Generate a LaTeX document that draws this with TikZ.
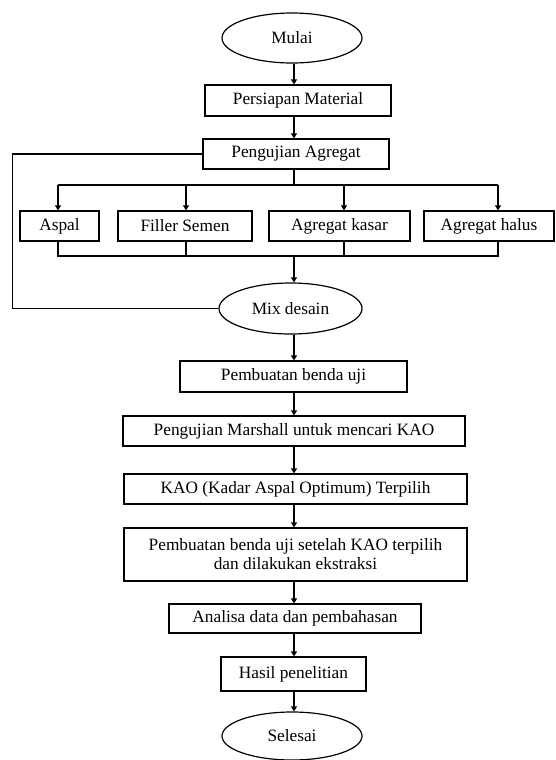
\documentclass[tikz,border=0pt]{standalone}
\usepackage{fontspec}
\setmainfont{Liberation Serif}
\usetikzlibrary{shapes.geometric,arrows.meta,calc}
\begin{document}
\begin{tikzpicture}[x=1pt,y=-1pt,
  every node/.style={font=\fontsize{17.3}{19}\selectfont, inner sep=0pt},
  box/.style={draw, rectangle, line width=1.2pt},
  oval/.style={draw, ellipse, line width=1.2pt},
  line/.style={line width=1.2pt},
  arr/.style={line width=1.2pt, -{Triangle[length=5pt,width=6pt]}}]
\useasboundingbox (0,0) rectangle (556,760);
% nodes
\node[oval, minimum width=140pt, minimum height=50pt] (mulai) at (292,38) {Mulai};
\node[box, minimum width=186pt, minimum height=31pt] (persiapan) at (298,100.5) {Persiapan Material};
\node[box, minimum width=186pt, minimum height=30pt] (pengujian) at (296,154) {Pengujian Agregat};
\node[box, minimum width=79pt, minimum height=30pt] (aspal) at (59.5,226) {Aspal};
\node[box, minimum width=134pt, minimum height=30pt] (filler) at (185,226) {Filler Semen};
\node[box, minimum width=141pt, minimum height=30pt] (kasar) at (339.5,226) {Agregat kasar};
\node[box, minimum width=130pt, minimum height=30pt] (halus) at (489,226) {Agregat halus};
\node[oval, minimum width=143pt, minimum height=51pt] (mix) at (290.5,308.5) {Mix desain};
\node[box, minimum width=227pt, minimum height=31pt] (pembuatan) at (293.5,376.5) {Pembuatan benda uji};
\node[box, minimum width=342pt, minimum height=30pt] (marshall) at (294,431) {Pengujian Marshall untuk mencari KAO};
\node[box, minimum width=343pt, minimum height=30pt] (kao) at (295.5,489) {KAO (Kadar Aspal Optimum) Terpilih};
\node[box, minimum width=343pt, minimum height=53pt, align=center] (setelah) at (295.5,554.5) {Pembuatan benda uji setelah KAO terpilih\\dan dilakukan ekstraksi};
\node[box, minimum width=252pt, minimum height=29pt] (analisa) at (295,618.5) {Analisa data dan pembahasan};
\node[box, minimum width=145pt, minimum height=34pt] (hasil) at (293.5,674) {Hasil penelitian};
\node[oval, minimum width=140pt, minimum height=48pt] (selesai) at (292,736) {Selesai};
% helper coordinates
\coordinate (stem) at (294,0);
\coordinate (b1) at (58,185);
\coordinate (b2) at (186,185);
\coordinate (b3) at (344,185);
\coordinate (b4) at (498,185);
\coordinate (j1) at (58,256);
\coordinate (j4) at (498,256);
% connectors
\draw[arr] (mulai.south -| stem) -- (persiapan.north -| stem);
\draw[arr] (persiapan.south -| stem) -- (pengujian.north -| stem);
\draw[line] (pengujian.south -| stem) -- (b1 -| stem);
\draw[line] (b1) -- (b4);
\draw[arr] (b1) -- (aspal.north -| b1);
\draw[arr] (b2) -- (filler.north -| b2);
\draw[arr] (b3) -- (kasar.north -| b3);
\draw[arr] (b4) -- (halus.north -| b4);
\draw[line] (aspal.south -| b1) -- (j1) -- (j4) -- (halus.south -| b4);
\draw[line] (filler.south -| b2) -- (j1 -| b2);
\draw[line] (kasar.south -| b3) -- (j1 -| b3);
\draw[arr] (j1 -| stem) -- (mix.north -| stem);
\draw[line] (pengujian.west) -- ++(-190,0) |- (mix.west);
\draw[arr] (mix.south -| stem) -- (pembuatan.north -| stem);
\draw[arr] (pembuatan.south -| stem) -- (marshall.north -| stem);
\draw[arr] (marshall.south -| stem) -- (kao.north -| stem);
\draw[arr] (kao.south -| stem) -- (setelah.north -| stem);
\draw[arr] (setelah.south -| stem) -- (analisa.north -| stem);
\draw[arr] (analisa.south -| stem) -- (hasil.north -| stem);
\draw[arr] (hasil.south -| stem) -- (selesai.north -| stem);
\end{tikzpicture}
\end{document}
